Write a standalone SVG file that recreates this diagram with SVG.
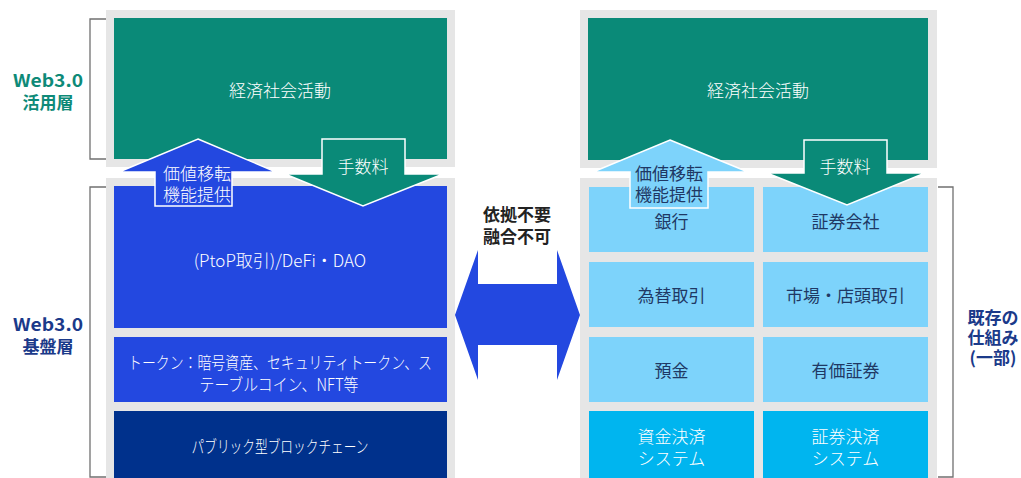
<svg xmlns="http://www.w3.org/2000/svg" width="1021" height="478" viewBox="0 0 1021 478">
<style>
text{font-family:"Noto Sans CJK JP","Noto Sans",sans-serif;text-anchor:middle;dominant-baseline:central;font-size:17px;font-weight:300}
.w{fill:#ffffff}
.d{fill:#1f3864;font-weight:400}
.frame{fill:#e6e6e6}
.green{fill:#0a8a78}
.blue{fill:#2348e0}
.navy{fill:#00318c}
.lb{fill:#7dd3fb}
.cy{fill:#00b5ef}
.br{fill:none;stroke:#707070;stroke-width:1.3}
.arr{stroke:#ffffff;stroke-width:1.5;stroke-linejoin:miter}
text.lbl{font-weight:bold}
</style>
<rect width="1021" height="478" fill="#ffffff"/>
<g id="labels">
<g id="label-web3-use">
<text class="lbl" x="48" y="79" font-size="18" fill="#0e8a78" textLength="70" lengthAdjust="spacingAndGlyphs">Web3.0</text>
<text class="lbl" x="48" y="101" fill="#0e8a78">活用層</text>
</g>
<g id="label-web3-base">
<text class="lbl" x="48" y="323" font-size="18" fill="#1b3a8a" textLength="70" lengthAdjust="spacingAndGlyphs">Web3.0</text>
<text class="lbl" x="48" y="345" fill="#1b3a8a">基盤層</text>
</g>
<g id="label-existing">
<text class="lbl" x="993" y="316" font-size="16" fill="#1b3a8a">既存の</text>
<text class="lbl" x="993" y="336" font-size="16" fill="#1b3a8a">仕組み</text>
<text class="lbl" x="993" y="356" font-size="16" fill="#1b3a8a">(一部)</text>
</g>
<g id="label-middle">
<text class="lbl" x="517" y="213" fill="#222222">依拠不要</text>
<text class="lbl" x="517" y="235" fill="#222222">融合不可</text>
</g>
</g>
<g id="brackets">
<path class="br" d="M106 19 H90 V159 H106"/>
<path class="br" d="M106 187 H90 V477 H106"/>
<path class="br" d="M938 187 H953 V477 H938"/>
</g>
<g id="left-panel">
<rect class="frame" x="106" y="10" width="349" height="157"/>
<rect class="frame" x="106" y="178" width="349" height="302"/>
<g id="l-econ">
<rect class="green" x="114" y="18" width="333" height="141"/>
<text class="w" x="280" y="89">経済社会活動</text>
</g>
<g id="l-defi">
<rect class="blue" x="114" y="186" width="333" height="142"/>
<text class="w" x="280" y="259">(PtoP取引)/DeFi・DAO</text>
</g>
<g id="l-token">
<rect class="blue" x="114" y="337" width="333" height="65"/>
<text class="w" x="280" y="361" font-size="16" textLength="304" lengthAdjust="spacingAndGlyphs">トークン：暗号資産、セキュリティトークン、ス</text>
<text class="w" x="279" y="383" font-size="16" textLength="159" lengthAdjust="spacingAndGlyphs">テーブルコイン、NFT等</text>
</g>
<g id="l-chain">
<rect class="navy" x="114" y="411" width="333" height="70"/>
<text class="w" x="280" y="445" textLength="177" lengthAdjust="spacingAndGlyphs">パブリック型ブロックチェーン</text>
</g>
</g>
<g id="right-panel">
<rect class="frame" x="580" y="10" width="357" height="158"/>
<rect class="frame" x="580" y="178" width="357" height="302"/>
<g id="r-econ">
<rect class="green" x="588" y="18" width="340" height="142"/>
<text class="w" x="758" y="89">経済社会活動</text>
</g>
<g id="r-bank"><rect class="lb" x="589" y="187" width="165" height="65"/><text class="d" x="671.5" y="220">銀行</text></g>
<g id="r-sec"><rect class="lb" x="763" y="187" width="165" height="65"/><text class="d" x="845.5" y="220">証券会社</text></g>
<g id="r-fx"><rect class="lb" x="589" y="262" width="165" height="65"/><text class="d" x="671.5" y="294.5">為替取引</text></g>
<g id="r-market"><rect class="lb" x="763" y="262" width="165" height="65"/><text class="d" x="845.5" y="294.5">市場・店頭取引</text></g>
<g id="r-deposit"><rect class="lb" x="589" y="337" width="165" height="65"/><text class="d" x="671.5" y="369.5">預金</text></g>
<g id="r-securities"><rect class="lb" x="763" y="337" width="165" height="65"/><text class="d" x="845.5" y="369.5">有価証券</text></g>
<g id="r-fund-settle"><rect class="cy" x="589" y="411" width="165" height="70"/><text class="w" x="671.5" y="435">資金決済</text><text class="w" x="671.5" y="457">システム</text></g>
<g id="r-sec-settle"><rect class="cy" x="763" y="411" width="165" height="70"/><text class="w" x="845.5" y="435">証券決済</text><text class="w" x="845.5" y="457">システム</text></g>
</g>
<g id="connectors">
<g id="l-up-arrow">
<path class="arr" fill="#2348e0" d="M198 139 L276 172 H232 V206 H155 V172 H119 Z"/>
<text class="w" x="197" y="172">価値移転</text>
<text class="w" x="197" y="193">機能提供</text>
</g>
<g id="l-down-arrow">
<path class="arr" fill="#0a8a78" d="M322 139 H405 V174 H443 L363 206 L285 174 H322 Z"/>
<text class="w" x="363" y="165">手数料</text>
</g>
<g id="r-up-arrow">
<path class="arr" fill="#7dd3fb" d="M670 140 L748 172 H708 V208 H630 V172 H593 Z"/>
<text class="d" x="669" y="172">価値移転</text>
<text class="d" x="669" y="193">機能提供</text>
</g>
<g id="r-down-arrow">
<path class="arr" fill="#0a8a78" d="M804 140 H887 V173 H925 L847 205 L767 173 H804 Z"/>
<text class="w" x="845" y="165">手数料</text>
</g>
<g id="double-arrow">
<path fill="#2348e0" d="M455 315 L478 250 V284 H557 V250 L580 315 L557 380 V345 H478 V380 Z"/>
</g>
</g>
</svg>
